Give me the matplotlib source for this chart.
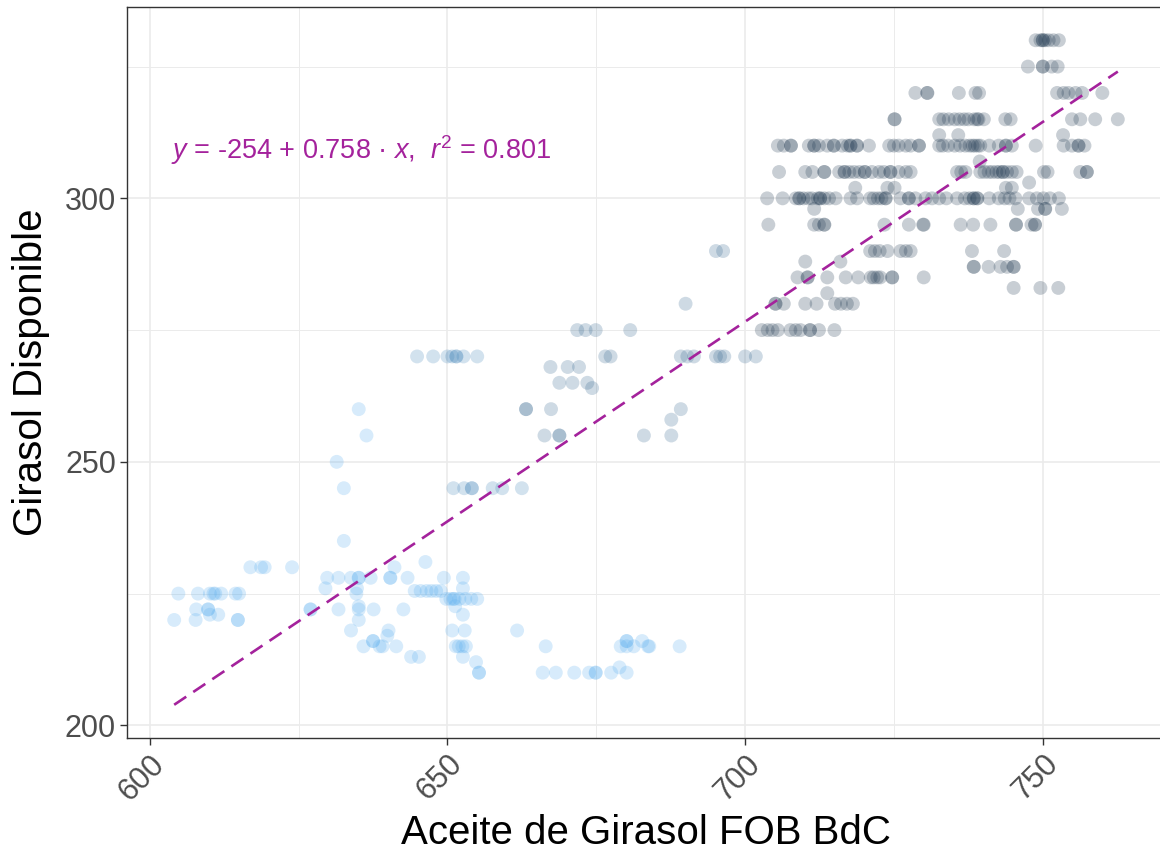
import numpy as np
import matplotlib
matplotlib.use("Agg")
import matplotlib.pyplot as plt
from matplotlib.colors import LinearSegmentedColormap
from matplotlib.ticker import MultipleLocator

# ---------------- data ----------------
# y level -> list of x values, grouped by colour tone
rows_dark = {
    330: [748.8, 749.6, 750.0, 750.0, 750.4, 751.0, 751.8, 752.7],
    325: [747.5, 750.0, 750.0, 751.5, 752.5],
    320: [728.6, 730.6, 730.6, 735.9, 738.7, 739.3, 752.4, 753.5, 754.3, 755.5, 756.6, 760.0],
    315: [725.1, 725.1, 732.6, 733.3, 734.2, 735.2, 736.0, 736.8, 737.5, 738.5, 739.0, 739.2,
          740.1, 743.7, 744.6, 754.9, 756.3, 758.8, 762.6],
    312: [732.6, 735.8, 753.4],
    310: [705.5, 706.5, 707.7, 707.7, 710.7, 711.6, 711.6, 712.4, 713.8, 714.9, 714.9, 716.3,
          717.2, 717.7, 717.7, 718.8, 718.8, 720.8, 724.2, 725.0, 725.8, 727.0, 727.8, 729.2,
          729.2, 732.6, 733.2, 734.1, 735.2, 736.1, 737.0, 737.7, 738.2, 738.6, 739.1, 739.5,
          741.0, 742.6, 743.8, 743.8, 744.8, 748.8, 753.5, 754.9, 756.0, 756.0, 757.0],
    307: [739.4],
    305: [705.7, 710.1, 711.3, 713.3, 713.3, 715.8, 716.7, 716.7, 717.5, 718.3, 719.2, 720.1,
          720.1, 721.3, 722.5, 723.3, 724.4, 724.4, 725.8, 727.0, 727.8, 735.6, 736.3, 737.0,
          739.5, 740.2, 740.9, 741.5, 742.2, 742.7, 743.3, 743.3, 744.0, 744.8, 745.6, 750.2,
          750.8, 756.3, 757.4, 757.4],
    303: [747.7],
    302: [718.5, 723.9, 725.1, 743.8, 744.8],
    300: [703.7, 706.3, 708.5, 709.1, 709.1, 709.8, 710.6, 711.2, 712.2, 712.6, 712.6, 713.3,
          714.1, 715.2, 717.7, 718.8, 721.0, 721.6, 722.3, 722.9, 723.6, 723.6, 726.1, 727.5,
          727.5, 728.6, 730.3, 731.4, 732.6, 733.8, 735.6, 736.9, 737.7, 738.4, 738.4, 739.0,
          739.0, 741.0, 742.6, 743.6, 744.4, 745.4, 747.7, 749.0, 750.1, 751.2, 752.7],
    298: [711.6, 745.8, 749.2, 750.4, 750.4, 753.2],
    295: [703.9, 711.6, 712.4, 713.3, 713.3, 723.4, 727.5, 729.9, 730.0, 736.2, 738.3, 741.2,
          745.5, 745.5, 748.1, 748.7, 748.7],
    290: [721.0, 721.8, 722.6, 723.9, 726.1, 727.0, 727.8, 738.1, 743.5],
    288: [710.1, 716.0],
    287: [738.4, 738.4, 740.9, 742.9, 744.0, 745.1, 745.1],
    285: [708.8, 710.5, 710.5, 713.8, 716.9, 719.0, 721.1, 721.6, 722.2, 722.7, 724.7, 724.7, 730.0],
    283: [745.1, 749.6, 752.6],
    282: [713.8],
    280: [705.1, 705.1, 706.5, 710.1, 712.0, 715.1, 716.1, 717.1, 718.1],
    275: [702.8, 703.8, 704.6, 705.5, 707.6, 708.5, 709.3, 710.9, 710.9, 712.4, 715.0],
}

rows_mid = {
    290: [695.1, 696.3],
    280: [690.0],
    275: [671.8, 673.2, 674.9, 680.7],
    270: [676.5, 677.4, 689.2, 690.3, 691.4, 695.1, 695.8, 696.5, 700.0, 701.8],
    268: [667.3, 670.2, 672.1],
    265: [668.8, 671.0, 673.5],
    264: [674.3],
    260: [663.2, 663.2, 667.4, 689.2],
    258: [687.6],
    255: [666.3, 668.8, 668.8, 683.0, 687.6],
}

rows_pale = {
    270: [644.9, 647.6, 650.0, 650.8, 651.5, 651.5, 652.7, 655.0],
    245: [651.0, 652.8, 654.1, 654.1, 657.6, 659.2, 662.5],
}

rows_light = {
    260: [635.1],
    255: [636.4],
    250: [631.4],
    245: [632.6],
    235: [632.6],
    231: [646.3],
    230: [616.9, 618.7, 619.3, 623.9, 641.1],
    228: [629.8, 631.7, 633.8, 635.1, 635.1, 637.1, 640.4, 640.4, 643.3, 649.4, 652.6],
    226: [629.5, 634.8, 652.6],
    225.5: [644.5, 645.5, 646.5, 647.3, 648.1, 648.9],
    225: [604.8, 608.1, 610.1, 610.7, 611.0, 612.0, 614.4, 615.0, 634.7],
    224: [649.8, 650.5, 651.0, 651.2, 652.0, 653.0, 654.0, 655.0],
    222.6: [635.1, 651.3],
    222: [607.8, 609.8, 609.8, 627.0, 627.0, 631.7, 635.1, 637.6, 642.6],
    221: [610.1, 611.5, 652.6],
    220: [604.1, 607.7, 614.8, 614.8, 635.1],
    218: [633.8, 640.1, 650.8, 652.9, 661.7],
    217: [639.9],
    216: [637.5, 637.5, 680.1, 680.1, 682.7],
    215: [635.9, 638.6, 639.1, 641.4, 651.4, 651.9, 652.5, 653.1, 666.5, 679.1, 680.1,
          681.3, 683.7, 683.9, 689.0],
    213: [643.9, 645.2, 652.6],
    212: [654.8],
    211: [678.9],
    210: [655.3, 655.3, 666.0, 668.2, 671.3, 673.8, 674.9, 674.9, 677.5, 680.1],
}

# regression shown in the chart
intercept = -254.0
slope = 0.758
r_squared = 0.801

x_label = "Aceite de Girasol FOB BdC"
y_label = "Girasol Disponible"
x_ticks = [600, 650, 700, 750]
y_ticks = [200, 250, 300]

# ---------------- style ----------------
plt.rcParams['font.family'] = ['Liberation Sans', 'DejaVu Sans']
plt.rcParams['mathtext.fontset'] = 'custom'
plt.rcParams['mathtext.rm'] = 'Liberation Sans'
plt.rcParams['mathtext.it'] = 'Liberation Sans:italic'
plt.rcParams['mathtext.bf'] = 'Liberation Sans:bold'

cmap = LinearSegmentedColormap.from_list("gg", ["#56B1F7", "#132B43"])
groups = [(rows_light, 0.05), (rows_pale, 0.35), (rows_mid, 0.6), (rows_dark, 0.97)]

xs, ys, cs = [], [], []
for rows, tone in groups:
    for yv, xl in rows.items():
        for xv in xl:
            xs.append(xv)
            ys.append(yv)
            cs.append(cmap(tone))
xs = np.array(xs)
ys = np.array(ys)

fig = plt.figure(figsize=(11.6, 8.5), dpi=100)
ax = fig.add_axes([127/1160, 112/850, (1165-127)/1160, (738-7)/850])

ax.scatter(xs, ys, s=100, c=cs, alpha=0.23, linewidths=0, zorder=3)

x0, x1 = xs.min(), xs.max()
lx = np.array([x0, x1])
ly = intercept + slope * lx
ax.plot(lx, ly, color="#A4229C", lw=1.9, dashes=(5.5, 3.2), zorder=4)

# ggplot-like limits (5% expansion)
xmin, xmax = x0, x1
ymin, ymax = min(ys.min(), ly.min()), max(ys.max(), ly.max())
dx = (xmax - xmin) * 0.05
dy = (ymax - ymin) * 0.05
ax.set_xlim(xmin - dx, xmax + dx)
ax.set_ylim(ymin - dy, ymax + dy)

ax.set_xticks(x_ticks)
ax.set_yticks(y_ticks)
ax.xaxis.set_minor_locator(MultipleLocator(25))
ax.yaxis.set_minor_locator(MultipleLocator(25))
ax.grid(which='major', color='#EBEBEB', lw=1.2, zorder=0)
ax.grid(which='minor', color='#EBEBEB', lw=0.7, zorder=0)
ax.set_axisbelow(True)
ax.tick_params(which='minor', length=0)
ax.tick_params(which='major', length=5, width=1, color='#333333',
               labelsize=22, labelcolor='#4D4D4D', pad=3)
for lab in ax.get_xticklabels():
    lab.set_rotation(45)
    lab.set_ha('right')
    lab.set_va('top')
    lab.set_rotation_mode('anchor')
for sp in ax.spines.values():
    sp.set_color('#333333')
    sp.set_linewidth(1.0)

eq = "$y$ = %d + %.3f \u00b7 $x$,  $r^2$ = %.3f" % (intercept, slope, r_squared)
ax.text(603.6, 309.2, eq, color="#A4229C", fontsize=19.5, ha='left', va='center', zorder=5)

fig.text(646/1160, 6/850, x_label, fontsize=29, ha='center', va='baseline', color='black')
fig.text(31/1160, 1 - 372/850, y_label, fontsize=29, ha='center', va='center',
         rotation=90, color='black')

fig.savefig("out.png", dpi=100, facecolor='white')
